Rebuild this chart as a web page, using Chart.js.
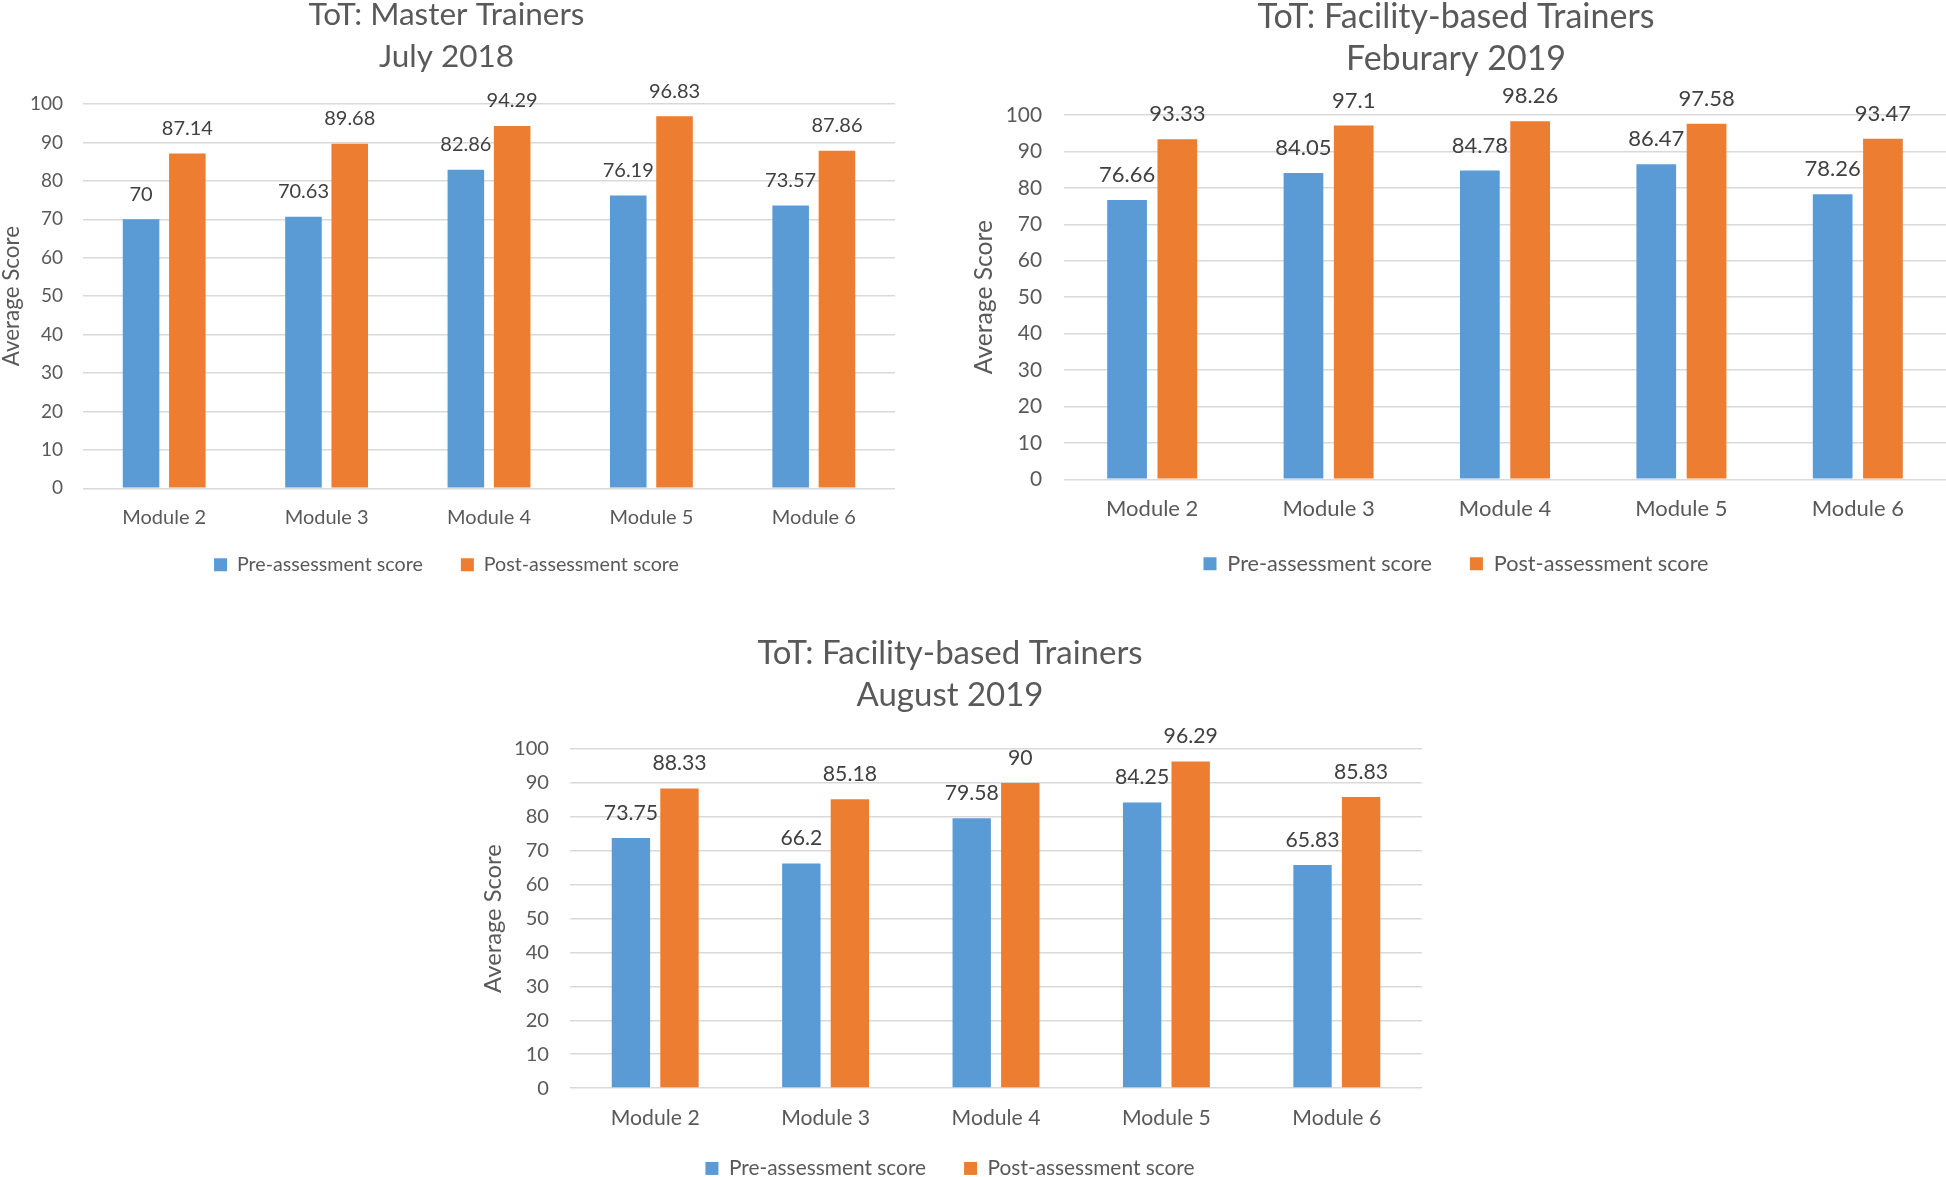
<!DOCTYPE html>
<html>
<head>
<meta charset="utf-8">
<script src="https://cdn.jsdelivr.net/npm/chart.js@4.4.0/dist/chart.umd.min.js"></script>
<style>
  html, body { margin: 0; padding: 0; background: #fff; overflow: hidden; width: 1946px; height: 1177px; }
  .box { position: absolute; }
</style>
</head>
<body>
<div class="box" style="left:-2px;top:-6px;width:897px;height:607px"><canvas id="chart1"></canvas></div>
<div class="box" style="left:966px;top:-4px;width:980px;height:598px"><canvas id="chart2"></canvas></div>
<div class="box" style="left:478px;top:632px;width:944px;height:570px"><canvas id="chart3"></canvas></div>
<script>
// data
const modules = ['Module 2', 'Module 3', 'Module 4', 'Module 5', 'Module 6'];
const seriesNames = ['Pre-assessment score', 'Post-assessment score'];

const preJul2018 = [70, 70.63, 82.86, 76.19, 73.57];
const postJul2018 = [87.14, 89.68, 94.29, 96.83, 87.86];

const preFeb2019 = [76.66, 84.05, 84.78, 86.47, 78.26];
const postFeb2019 = [93.33, 97.1, 98.26, 97.58, 93.47];

const preAug2019 = [73.75, 66.2, 79.58, 84.25, 65.83];
const postAug2019 = [88.33, 85.18, 90, 96.29, 85.83];

const yMin = 0, yMax = 100, yStep = 10;

const FONT = 'Lato, "Open Sans", sans-serif';
const GREY = '#595959';

function modelBarChart(id, title, pre, post, lay) {
    const k = lay.k;

    // write the value above each bar
    const valueLabels = {
        id: 'valueLabels',
        afterDatasetsDraw(chart) {
            const ctx = chart.ctx;
            ctx.save();
            ctx.font = (20 * k) + 'px ' + FONT;
            ctx.fillStyle = '#404040';
            ctx.textAlign = 'center';
            ctx.textBaseline = 'middle';
            chart.data.datasets.forEach((ds, i) => {
                chart.getDatasetMeta(i).data.forEach((bar, j) => {
                    ctx.fillText(String(ds.data[j]), bar.x, bar.y - 25);
                });
            });
            ctx.restore();
        }
    };

    // pull the legend row up closer to the axis labels
    const legendMove = {
        id: 'legendMove',
        afterLayout(chart) {
            const lg = chart.legend;
            const h = lg.bottom - lg.top;
            lg.top = lay.legendTop;
            lg.bottom = lay.legendTop + h;
        }
    };

    const data = {
        labels: modules,
        datasets: [
            { label: seriesNames[0], data: pre, backgroundColor: '#5B9BD5' },
            { label: seriesNames[1], data: post, backgroundColor: '#ED7D31' }
        ]
    };

    const options = {
        responsive: true,
        maintainAspectRatio: false,
        animation: false,
        layout: { padding: 0 },
        datasets: { bar: { categoryPercentage: 0.57, barPercentage: 0.79, borderWidth: 0 } },
        plugins: {
            title: {
                display: true,
                text: title,
                color: GREY,
                font: { family: FONT, size: lay.titleSize, weight: 'normal', lineHeight: 42 / lay.titleSize },
                padding: { top: 0, bottom: lay.titlePad }
            },
            legend: {
                position: 'bottom',
                labels: {
                    boxWidth: 13, boxHeight: 13, padding: 38,
                    color: GREY,
                    font: { family: FONT, size: 19.7 * k }
                }
            },
            tooltip: { enabled: false }
        },
        scales: {
            x: {
                grid: { display: false, drawTicks: false },
                border: { display: false },
                ticks: { color: GREY, padding: lay.xPad, font: { family: FONT, size: 20 * k } },
                afterFit: s => { s.height = 45; }
            },
            y: {
                min: yMin, max: yMax,
                grid: { color: '#D9D9D9', lineWidth: 1.5, drawTicks: false },
                border: { display: false },
                ticks: { stepSize: yStep, color: GREY, padding: lay.yPad, font: { family: FONT, size: 19 * k } },
                title: {
                    display: true, text: 'Average Score', color: GREY,
                    font: { family: FONT, size: 22.4 * k },
                    padding: { top: lay.yTitlePad, bottom: 0 }
                },
                afterFit: s => { s.width = lay.yWidth; }
            }
        }
    };

    new Chart(id, { type: 'bar', data, options, plugins: [valueLabels, legendMove] });
}

modelBarChart('chart1', ['ToT: Master Trainers', 'July 2018'], preJul2018, postJul2018,
    { k: 1, titleSize: 31.5, titlePad: 26, yWidth: 85, yTitlePad: 0, yPad: 20, xPad: 17, legendTop: 523 });

modelBarChart('chart2', ['ToT: Facility-based Trainers', 'Feburary 2019'], preFeb2019, postFeb2019,
    { k: 1.1, titleSize: 34, titlePad: 35, yWidth: 98, yTitlePad: 3, yPad: 22, xPad: 16.5, legendTop: 519 });

modelBarChart('chart3', ['ToT: Facility-based Trainers', 'August 2019'], preAug2019, postAug2019,
    { k: 1.06, titleSize: 33, titlePad: 33, yWidth: 92, yTitlePad: 1, yPad: 21, xPad: 17, legendTop: 488 });
</script>
</body>
</html>
